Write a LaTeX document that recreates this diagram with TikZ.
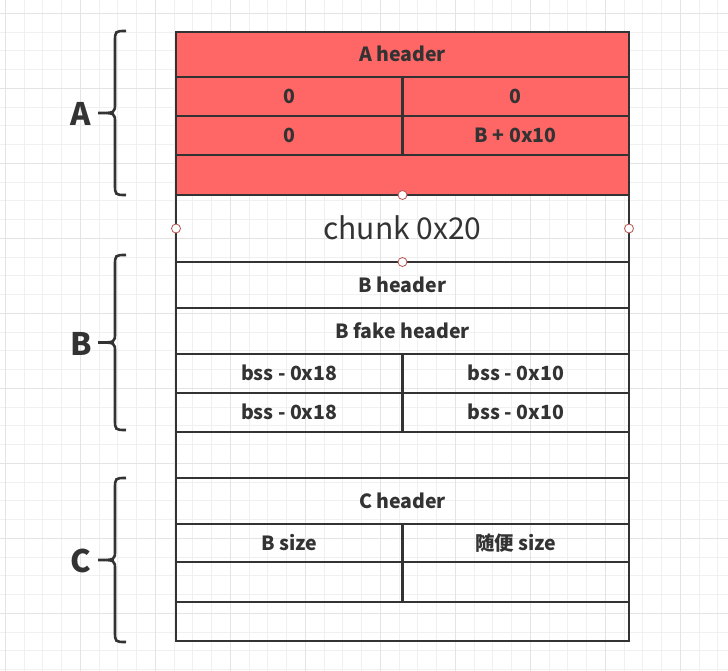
\documentclass[tikz,border=0pt]{standalone}
\usepackage{fontspec}
\setmainfont{Noto Sans CJK SC}
\usepackage{tikz}
\usetikzlibrary{positioning}

\definecolor{chunkred}{HTML}{FF6666}
\definecolor{linegray}{HTML}{333333}
\definecolor{gridminor}{HTML}{F0F0F0}
\definecolor{gridmajor}{HTML}{E4E4E4}
\definecolor{pointred}{HTML}{B85450}

\begin{document}
\begin{tikzpicture}[x=1pt, y=-1pt,
    cell/.style={draw=linegray, line width=2.8pt, outer sep=0pt, inner sep=0pt,
        text=linegray, font=\fontsize{19.5}{22}\selectfont\bfseries,
        text height=14.3pt, text depth=0pt, minimum width=453pt, anchor=north west},
    half/.style={cell, minimum width=226.5pt},
    red/.style={fill=chunkred},
    point/.style={circle, draw=pointred, fill=white, line width=0.8pt, inner sep=0pt, minimum size=9pt},
    bracestyle/.style={draw=linegray, line width=2.6pt},
    lbl/.style={text=linegray, font=\fontsize{31}{34}\selectfont\bfseries}]
    \useasboundingbox (0,0) rectangle (728,671);
    \fill[white] (0,0) rectangle (728,671);
    % grid
    \foreach \i in {0,...,38}
        \draw[gridminor, line width=1pt] (5.3+\i*18.75,0) -- ++(0,671);
    \foreach \j in {0,...,35}
        \draw[gridminor, line width=1pt] (0,13.3+\j*18.75) -- ++(728,0);
    \foreach \i in {0,...,9}
        \draw[gridmajor, line width=1pt] (5.3+\i*75,0) -- ++(0,671);
    \foreach \j in {0,...,8}
        \draw[gridmajor, line width=1pt] (0,13.3+\j*75) -- ++(728,0);

    % chunk A
    \node[cell, red, minimum height=45pt] (ahdr) at (176,32) {A header};
    \node[half, red, minimum height=39pt] (aprev) at (ahdr.south west) {0};
    \node[half, red, minimum height=39pt, right=0pt of aprev] (asize) {0};
    \node[half, red, minimum height=39pt] (afd) at (aprev.south west) {0};
    \node[half, red, minimum height=39pt, right=0pt of afd] (abk) {B + 0x10};
    \node[cell, red, minimum height=40pt] (adata) at (afd.south west) {};
    % chunk 0x20
    \node[cell, minimum height=67pt, font=\fontsize{30}{34}\selectfont, text height=22pt] (chunk) at (adata.south west) {chunk 0x20};
    % chunk B
    \node[cell, minimum height=46pt] (bhdr) at (chunk.south west) {B header};
    \node[cell, minimum height=46pt] (bfake) at (bhdr.south west) {B fake header};
    \node[half, minimum height=39pt] (bfd) at (bfake.south west) {bss - 0x18};
    \node[half, minimum height=39pt, right=0pt of bfd] (bbk) {bss - 0x10};
    \node[half, minimum height=39pt] (bfdb) at (bfd.south west) {bss - 0x18};
    \node[half, minimum height=39pt, right=0pt of bfdb] (bbkb) {bss - 0x10};
    \node[cell, minimum height=46pt] (bdata) at (bfdb.south west) {};
    % chunk C
    \node[cell, minimum height=46pt] (chdr) at (bdata.south west) {C header};
    \node[half, minimum height=38pt] (cprev) at (chdr.south west) {B size};
    \node[half, minimum height=38pt, right=0pt of cprev] (csize) {随便 size};
    \node[half, minimum height=40pt] (cfd) at (cprev.south west) {};
    \node[half, minimum height=40pt, right=0pt of cfd] (cbk) {};
    \node[cell, minimum height=39pt] (cdata) at (cfd.south west) {};

    % connection points
    \foreach \a in {north, west, east, south}
        \node[point] (pt\a) at (chunk.\a) {};

    % braces
    \foreach \ytop/\ybot/\blab in {31/195/A, 255/430/B, 478/642/C} {
        \pgfmathsetmacro\ymid{(\ytop+\ybot)/2}
        \draw[bracestyle] (126,\ytop) .. controls (115,\ytop) .. (115,\ytop+11)
            -- (115,\ymid-10) .. controls (115,\ymid) .. (98,\ymid)
            .. controls (115,\ymid) .. (115,\ymid+10)
            -- (115,\ybot-11) .. controls (115,\ybot) .. (126,\ybot);
        \node[lbl] (lab\blab) at (81,\ymid+1) {\blab};
    }
\end{tikzpicture}
\end{document}
